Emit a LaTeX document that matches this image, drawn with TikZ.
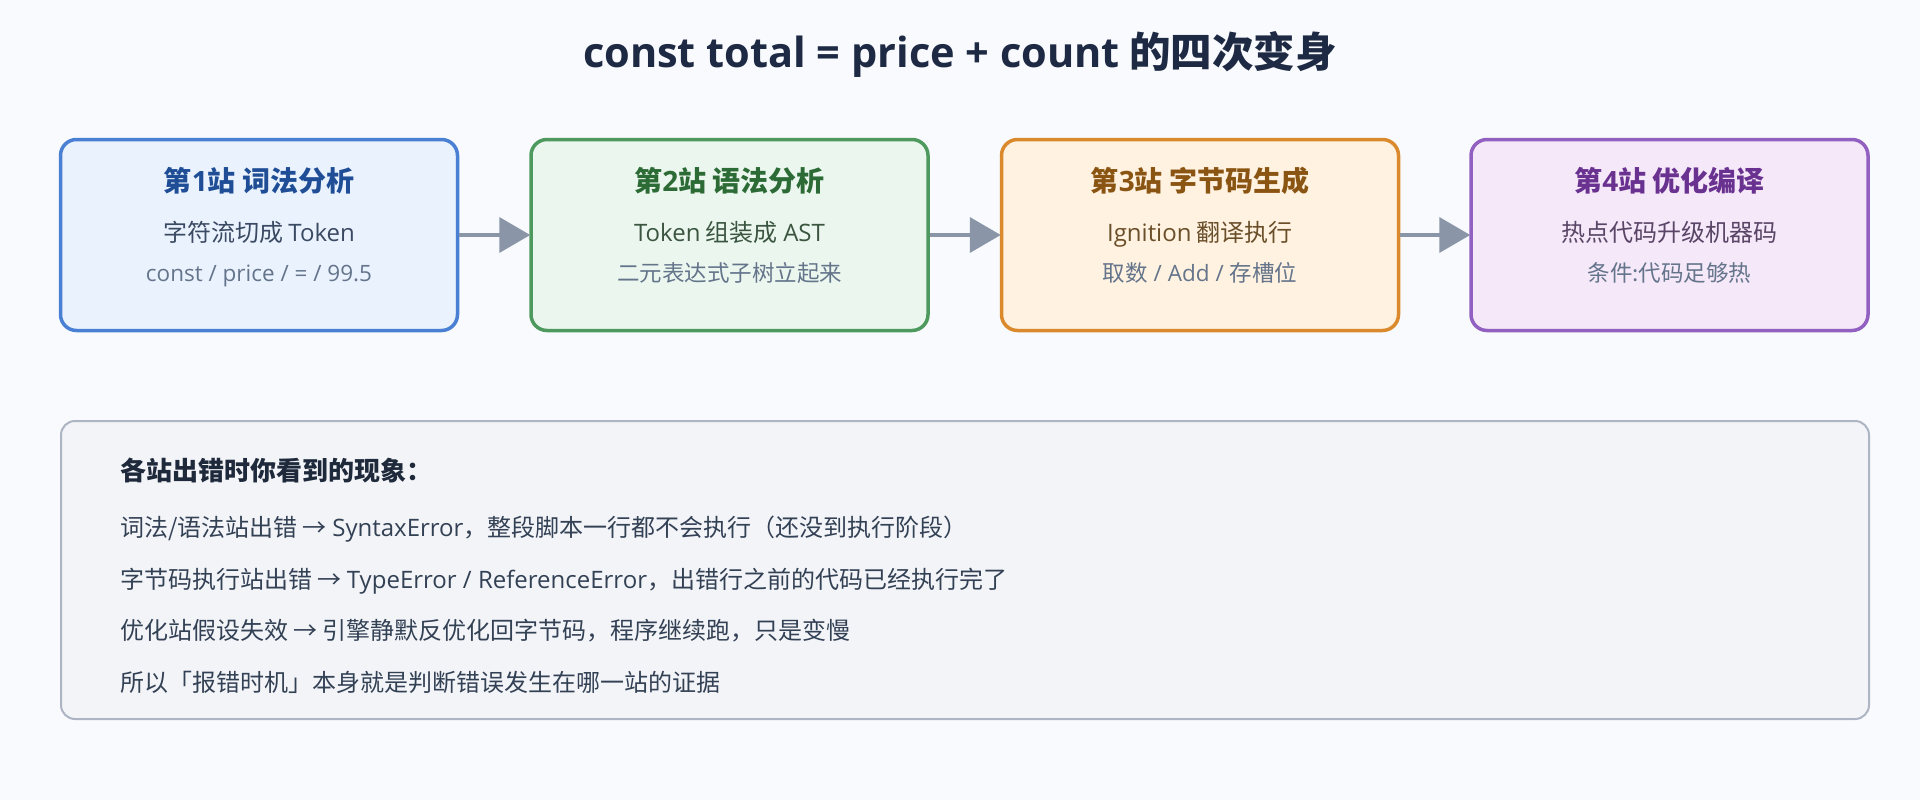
\documentclass[tikz,border=0pt]{standalone}
\usepackage{fontspec}
\usetikzlibrary{arrows.meta}
\setmainfont{Noto Sans CJK SC}
\newfontfamily\lt{Open Sans}
\definecolor{bgc}{HTML}{F8FAFD}
\definecolor{titlec}{HTML}{1E2A44}
\definecolor{arrowc}{HTML}{8A96A8}
\definecolor{subc}{HTML}{64748B}
\definecolor{bOneB}{HTML}{4A80D4}\definecolor{bOneF}{HTML}{EAF2FE}\definecolor{bOneT}{HTML}{1F4E96}\definecolor{bOneL}{HTML}{3B4A63}
\definecolor{bTwoB}{HTML}{4E9A5E}\definecolor{bTwoF}{HTML}{EBF7EE}\definecolor{bTwoT}{HTML}{2C6B35}\definecolor{bTwoL}{HTML}{3B5540}
\definecolor{bThrB}{HTML}{DA8A2C}\definecolor{bThrF}{HTML}{FFF2E0}\definecolor{bThrT}{HTML}{8A5512}\definecolor{bThrL}{HTML}{6B4F2A}
\definecolor{bFouB}{HTML}{9160C0}\definecolor{bFouF}{HTML}{F5E8F9}\definecolor{bFouT}{HTML}{6A3290}\definecolor{bFouL}{HTML}{5A4566}
\definecolor{panelF}{HTML}{F3F4F8}\definecolor{panelB}{HTML}{ADB5C4}
\definecolor{headc}{HTML}{1E293B}\definecolor{bodyc}{HTML}{334155}
\begin{document}
\begin{tikzpicture}[x=1pt,y=-1pt,
  stationbox/.style={draw, rounded corners=16pt, line width=3.5pt, minimum width=397pt, minimum height=191pt, inner sep=0pt},
  sttitle/.style={anchor=base, inner sep=0pt, font=\fontsize{28}{32}\selectfont\bfseries},
  stline/.style={anchor=base, inner sep=0pt, font=\fontsize{24}{28}\selectfont},
  stsub/.style={anchor=base, inner sep=0pt, text=subc, font=\fontsize{22.5}{26}\selectfont},
  flow/.style={draw=arrowc, line width=4pt, -{Triangle[length=31pt,width=35pt]}, shorten >=-1pt},
  bodytext/.style={anchor=base west, inner sep=0pt, text=bodyc, font=\fontsize{24}{28}\selectfont}
]
\fill[bgc] (0,0) rectangle (1920,800);
\useasboundingbox (0,0) rectangle (1920,800);
\node[anchor=base, inner sep=0pt, text=titlec, font=\fontsize{41.5}{48}\selectfont\bfseries] (title) at (960,68) {{\lt const total = price + count} 的四次变身};
% stations
\node[stationbox, draw=bOneB, fill=bOneF] (s1) at (259,235) {};
\node[stationbox, draw=bTwoB, fill=bTwoF] (s2) at (729.5,235) {};
\node[stationbox, draw=bThrB, fill=bThrF] (s3) at (1200,235) {};
\node[stationbox, draw=bFouB, fill=bFouF] (s4) at (1669.5,235) {};
\node[sttitle, text=bOneT] (t1) at (259,191) {第{\lt 1}站 词法分析};
\node[stline, text=bOneL] (l1) at (259,241) {字符流切成 {\lt Token}};
\node[stsub] (u1) at (259,281) {{\lt const / price / = / 99.5}};
\node[sttitle, text=bTwoT] (t2) at (729.5,191) {第{\lt 2}站 语法分析};
\node[stline, text=bTwoL] (l2) at (729.5,241) {{\lt Token} 组装成 {\lt AST}};
\node[stsub] (u2) at (729.5,281) {二元表达式子树立起来};
\node[sttitle, text=bThrT] (t3) at (1200,191) {第{\lt 3}站 字节码生成};
\node[stline, text=bThrL] (l3) at (1200,241) {{\lt Ignition} 翻译执行};
\node[stsub] (u3) at (1200,281) {取数{\lt\ / Add / }存槽位};
\node[sttitle, text=bFouT] (t4) at (1669.5,191) {第{\lt 4}站 优化编译};
\node[stline, text=bFouL] (l4) at (1669.5,241) {热点代码升级机器码};
\node[stsub] (u4) at (1669.5,281) {条件:代码足够热};
\draw[flow] (s1.east) -- (s2.west);
\draw[flow] (s2.east) -- (s3.west);
\draw[flow] (s3.east) -- (s4.west);
% panel
\node[draw=panelB, fill=panelF, line width=2pt, rounded corners=14pt, minimum width=1808pt, minimum height=298pt, inner sep=0pt] (panel) at (965,570) {};
\node[anchor=base west, inner sep=0pt, text=headc, font=\fontsize{26}{30}\selectfont\bfseries] (ph) at (120,480) {各站出错时你看到的现象：};
\node[bodytext] (p1) at (120,536) {词法/语法站出错 → {\lt SyntaxError}，整段脚本一行都不会执行（还没到执行阶段）};
\node[bodytext] (p2) at (120,588) {字节码执行站出错 → {\lt TypeError / ReferenceError}，出错行之前的代码已经执行完了};
\node[bodytext] (p3) at (120,639) {优化站假设失效 → 引擎静默反优化回字节码，程序继续跑，只是变慢};
\node[bodytext] (p4) at (120,691) {所以「报错时机」本身就是判断错误发生在哪一站的证据};
\end{tikzpicture}
\end{document}
